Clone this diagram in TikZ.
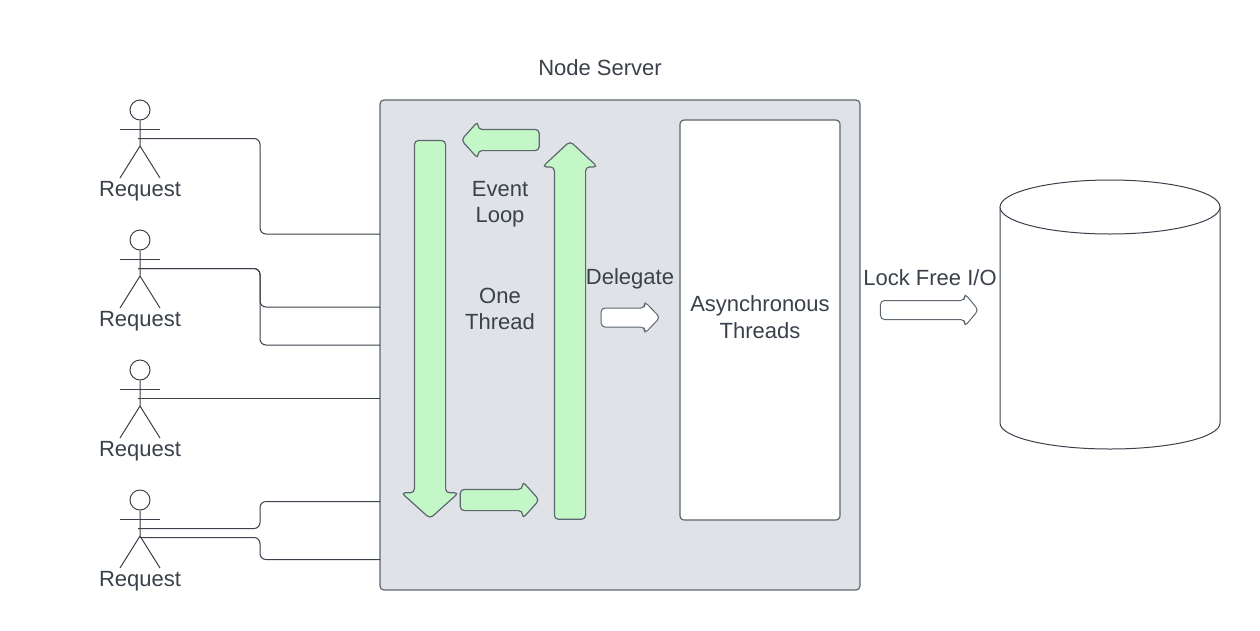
\documentclass[tikz,border=0pt]{standalone}
\usepackage{fontspec}
\setmainfont{Liberation Sans}
\usetikzlibrary{shapes.arrows}
\definecolor{ink}{HTML}{3A414A}
\definecolor{rim}{HTML}{5E6670}
\definecolor{panel}{HTML}{DFE3E8}
\definecolor{mint}{HTML}{C3F7C8}
\tikzstyle{label}=[font=\fontsize{22}{26.5}\selectfont,text=ink,align=center,inner sep=0pt]
\tikzstyle{actor}=[draw=ink,line width=1pt]
\tikzstyle{wire}=[draw=ink,line width=1pt,rounded corners=6pt]
\tikzstyle{box}=[draw=rim,line width=1.2pt,rounded corners=4pt,inner sep=0pt,outer sep=0pt]
\tikzstyle{flow}=[single arrow,draw=rim,line width=1.2pt,rounded corners=4pt,outer sep=0pt,fill=mint]

\begin{document}
\begin{tikzpicture}[x=1pt,y=-1pt]
    \useasboundingbox (0,0) rectangle (1260,630);

    % the server and the box inside it
    \node[box,fill=panel,minimum width=480pt,minimum height=490pt] (server) at (620,345) {};
    \node[box,fill=white,minimum width=160pt,minimum height=400pt] (threads) at (760,320) {};
    \node[label] (async) at (760,317) {Asynchronous\\Threads};
    \node[label] (title) at (600,68) {Node Server};

    % Draw the four actors
    \foreach \y/ \name in {110/a,240/b,370/c,500/d} {
        \node[circle,actor,minimum size=20pt,inner sep=0pt] (head\name) at (140,\y) {};
        \draw[actor] (head\name.south) -- (140,\y+36) -- (120,\y+68);
        \draw[actor] (140,\y+36) -- (160,\y+68);
        \draw[actor] (120,\y+19) -- (160,\y+19);
        \node[label] (req\name) at (140,\y+81) {Request};
        \coordinate (from\name) at (138,\y+28.5);
    }
    \coordinate (low) at (140,537.5);

    % where the wires reach the server
    \foreach \y/ \name in {234/p,307/q,345/r,398.5/s,501.5/t,559.5/u}
        \coordinate (to\name) at (380,\y);

    % Connect actors with the server
    \path[wire] (froma) -- (260,138.5) -- (260,234) -- (top);
    \path[wire] (fromb) -- (260,268.5) -- (260,307) -- (toq);
    \path[wire] (fromb) -- (260,268.5) -- (260,345) -- (tor);
    \path[wire] (fromc) -- (tos);
    \path[wire] (fromd) -- (260,528.5) -- (260,501.5) -- (tot);
    \path[wire] (low) -- (260,537.5) -- (260,559.5) -- (tou);

    % The loop arrows
    \node[flow,inner sep=15pt,minimum height=378pt,single arrow head extend=13pt,single arrow tip angle=96,shape border rotate=270] (down) at (430,322.5) {};
    \node[flow,inner xsep=0pt,inner ysep=10pt,minimum height=79pt,single arrow head extend=8pt,single arrow tip angle=96] (right) at (495,500) {};
    \node[flow,inner sep=15pt,minimum height=378pt,single arrow head extend=12pt,single arrow tip angle=94,shape border rotate=90] (up) at (570,337.5) {};
    \node[flow,inner xsep=0pt,inner ysep=10pt,minimum height=78pt,single arrow head extend=8pt,single arrow tip angle=96,shape border rotate=180] (left) at (505,140) {};

    % The two white arrows
    \node[flow,fill=white,line width=1pt,inner xsep=0pt,inner ysep=9pt,minimum height=59pt,single arrow head extend=6.5pt,single arrow tip angle=92] (hand) at (626,317.5) {};
    \node[flow,fill=white,line width=1pt,inner xsep=0pt,inner ysep=9pt,minimum height=98pt,single arrow head extend=7pt,single arrow tip angle=100] (io) at (925.5,310) {};

    \node[label] (event) at (500,204) {Event\\Loop};
    \node[label] (one) at (500,309) {One\\Thread};
    \node[label] (delegate) at (630,279) {Delegate};
    \node[label] (lock) at (930,278) {Lock Free I/O};

    % The store
    \draw[draw=ink,line width=1pt,fill=white] (1000,207) -- (1000,423) arc[start angle=180,end angle=0,x radius=110,y radius=26] -- (1220,207);
    \draw[draw=ink,line width=1pt,fill=white] (1110,207) ellipse [x radius=110,y radius=27];
\end{tikzpicture}
\end{document}
